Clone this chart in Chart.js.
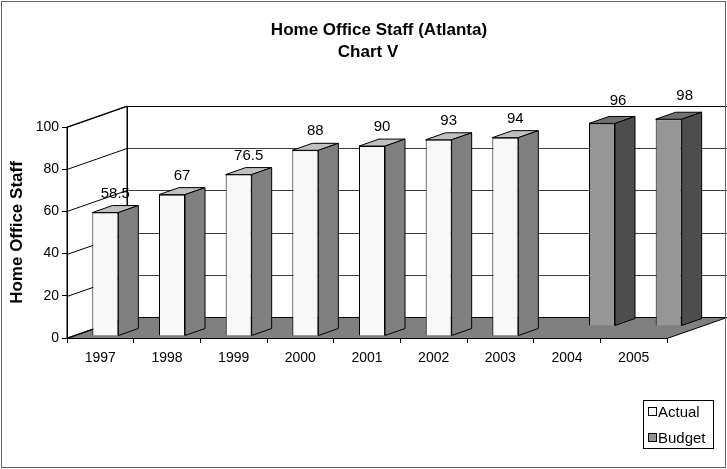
<!DOCTYPE html>
<html>
<head>
<meta charset="utf-8">
<title>Home Office Staff (Atlanta)</title>
<script src="https://cdn.jsdelivr.net/npm/chart.js@4/dist/chart.umd.min.js"></script>
<style>
  html, body { margin: 0; padding: 0; background: #fff; }
  #wrap { width: 727px; height: 469px; }
</style>
</head>
<body>
<div id="wrap"><canvas id="staffChart" width="727" height="469"></canvas></div>
<script>
const years = ["1997", "1998", "1999", "2000", "2001", "2002", "2003", "2004", "2005"];
const actual = [58.5, 67, 76.5, 88, 90, 93, 94, null, null];
const budget = [null, null, null, null, null, null, null, 96, 98];
const yTicks = [0, 20, 40, 60, 80, 100];

const FONT = "'Liberation Sans', Arial, sans-serif";

// 3d look: depth of the walls/floor and of each bar
const DEPTH_X = 60, DEPTH_Y = -21;
const BAR_DX = 20, BAR_DY = -7;
const looks = [
  { name: "Actual", face: "#f8f8f8", side: "#808080", top: "#c0c0c0", dx: 5, dy: -2, labelDx: 10, labelDy: -19 },
  { name: "Budget", face: "#969696", side: "#4d4d4d", top: "#707070", dx: 35, dy: -12, labelDx: 16, labelDy: -23 }
];

function poly(ctx, pts, fill, stroke) {
  ctx.beginPath();
  ctx.moveTo(pts[0][0], pts[0][1]);
  for (let i = 1; i < pts.length; i++) ctx.lineTo(pts[i][0], pts[i][1]);
  ctx.closePath();
  if (fill) { ctx.fillStyle = fill; ctx.fill(); }
  if (stroke) { ctx.strokeStyle = stroke; ctx.lineWidth = 1; ctx.stroke(); }
}

function line(ctx, x1, y1, x2, y2, color) {
  ctx.beginPath();
  ctx.moveTo(x1, y1);
  ctx.lineTo(x2, y2);
  ctx.strokeStyle = color;
  ctx.lineWidth = 1;
  ctx.stroke();
}

const depthPlugin = {
  id: "depth3d",
  beforeDraw(chart) {
    const ctx = chart.ctx;
    const { left, right, top, bottom } = chart.chartArea;
    const y = chart.scales.y;
    const bx = left + DEPTH_X;
    ctx.save();
    // left side wall
    poly(ctx, [[left, top], [bx, top + DEPTH_Y], [bx, bottom + DEPTH_Y], [left, bottom]], "#fff", "#000");
    // back wall
    poly(ctx, [[bx, top + DEPTH_Y], [right + DEPTH_X, top + DEPTH_Y], [right + DEPTH_X, bottom + DEPTH_Y], [bx, bottom + DEPTH_Y]], "#fff", null);
    yTicks.forEach((v) => {
      const py = Math.round(y.getPixelForValue(v)) + 0.5;
      const isTop = v === yTicks[yTicks.length - 1];
      line(ctx, bx, py + DEPTH_Y, right + DEPTH_X, py + DEPTH_Y, isTop ? "#000" : "#3c3c3c");
      line(ctx, left, py, bx, py + DEPTH_Y, "#000");
    });
    line(ctx, bx + 0.5, top + DEPTH_Y, bx + 0.5, bottom + DEPTH_Y, "#000");
    // floor
    const fy = Math.round(bottom) + 0.5;
    poly(ctx, [[left, fy], [right, fy], [right + DEPTH_X, fy + DEPTH_Y], [bx, fy + DEPTH_Y]], "#808080", "#000");
    ctx.restore();
  },
  beforeDatasetDraw(chart, args) {
    const s = looks[args.index];
    const ctx = chart.ctx;
    const values = chart.data.datasets[args.index].data;
    ctx.save();
    ctx.translate(s.dx, s.dy);
    args.meta.data.forEach((bar, i) => {
      if (values[i] == null) return;
      const { x, y, base, width } = bar.getProps(["x", "y", "base", "width"], true);
      const l = x - width / 2, r = x + width / 2;
      poly(ctx, [[l, y], [l + BAR_DX, y + BAR_DY], [r + BAR_DX, y + BAR_DY], [r, y]], s.top, "#000");
      poly(ctx, [[r, y], [r + BAR_DX, y + BAR_DY], [r + BAR_DX, base + BAR_DY], [r, base]], s.side, "#000");
    });
  },
  afterDatasetDraw(chart) {
    chart.ctx.restore();
  },
  afterDatasetsDraw(chart) {
    const ctx = chart.ctx;
    ctx.save();
    ctx.font = "15px " + FONT;
    ctx.fillStyle = "#000";
    ctx.textAlign = "center";
    ctx.textBaseline = "middle";
    chart.data.datasets.forEach((ds, di) => {
      const s = looks[di];
      chart.getDatasetMeta(di).data.forEach((bar, i) => {
        if (ds.data[i] == null) return;
        ctx.fillText(String(ds.data[i]), bar.x + s.dx + s.labelDx, bar.y + s.dy + s.labelDy);
      });
    });
    ctx.restore();
  },
  afterDraw(chart) {
    const ctx = chart.ctx;
    ctx.save();
    // title
    ctx.fillStyle = "#000";
    ctx.font = "bold 17px " + FONT;
    ctx.textAlign = "center";
    ctx.textBaseline = "middle";
    ctx.fillText("Home Office Staff (Atlanta)", 379, 30);
    ctx.fillText("Chart V", 368, 52);
    // legend
    ctx.fillStyle = "#fff";
    ctx.fillRect(643.5, 400.5, 70, 48);
    ctx.strokeStyle = "#000";
    ctx.lineWidth = 1;
    ctx.strokeRect(643.5, 400.5, 70, 48);
    ctx.font = "15px " + FONT;
    ctx.textAlign = "left";
    looks.forEach((s, i) => {
      const cy = 412 + i * 26;
      ctx.fillStyle = s.face;
      ctx.fillRect(648.5, cy - 4.5, 8, 8);
      ctx.strokeRect(648.5, cy - 4.5, 8, 8);
      ctx.fillStyle = "#000";
      ctx.fillText(s.name, 658, cy + 1);
    });
    // outer frame
    ctx.strokeStyle = "#666";
    ctx.strokeRect(1.5, 1.5, 724, 466);
    ctx.restore();
  }
};

new Chart(document.getElementById("staffChart"), {
  type: "bar",
  data: {
    labels: years,
    datasets: [
      {
        label: "Actual",
        data: actual,
        backgroundColor: looks[0].face,
        borderColor: "#000",
        borderWidth: 1,
        clip: false
      },
      {
        label: "Budget",
        data: budget,
        backgroundColor: looks[1].face,
        borderColor: "#000",
        borderWidth: 1,
        clip: false
      }
    ]
  },
  options: {
    responsive: false,
    animation: false,
    devicePixelRatio: 1,
    layout: { padding: { top: 127, right: 60, bottom: 0, left: 0 } },
    datasets: {
      bar: { grouped: false, barPercentage: 0.39, categoryPercentage: 1 }
    },
    scales: {
      x: {
        afterFit: (scale) => { scale.height = 131; },
        grid: { drawOnChartArea: false, color: "#000", tickLength: 5 },
        border: { color: "#000" },
        ticks: {
          color: "#000",
          font: { family: FONT, size: 14 },
          padding: 7,
          maxRotation: 0,
          autoSkip: false
        }
      },
      y: {
        min: 0,
        max: 100,
        afterFit: (scale) => { scale.width = 67; },
        grid: { drawOnChartArea: false, color: "#000", tickLength: 5 },
        border: { color: "#000" },
        ticks: {
          stepSize: 20,
          color: "#000",
          font: { family: FONT, size: 14 },
          padding: 3
        },
        title: {
          display: true,
          text: "Home Office Staff",
          color: "#000",
          font: { family: FONT, size: 17, weight: "bold" },
          padding: { top: 7, bottom: 0 }
        }
      }
    },
    plugins: {
      legend: { display: false },
      title: { display: false },
      tooltip: { enabled: false }
    }
  },
  plugins: [depthPlugin]
});
</script>
</body>
</html>
